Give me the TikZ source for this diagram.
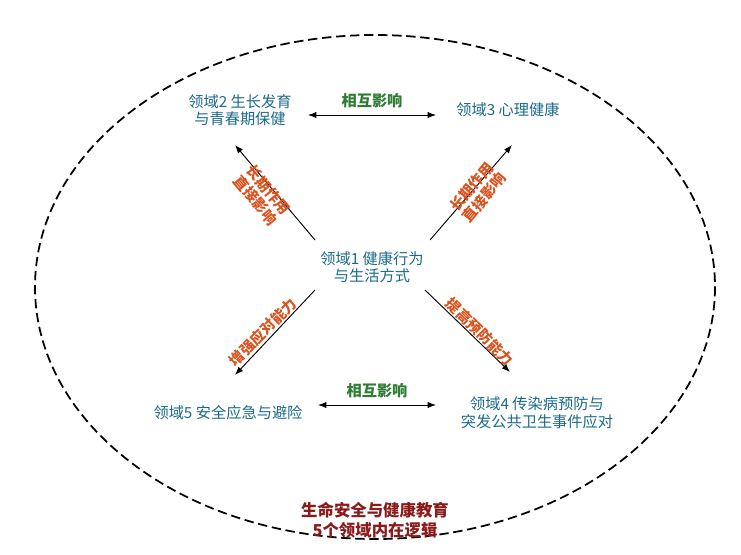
\documentclass[tikz,border=0pt]{standalone}
\usepackage{fontspec}
\setmainfont{Noto Sans CJK SC}
\usetikzlibrary{positioning, arrows.meta}
\definecolor{areablue}{HTML}{1B6A88}
\definecolor{tagred}{HTML}{D9531E}
\definecolor{tagreen}{HTML}{2E7D32}
\definecolor{titlered}{HTML}{8B1A1A}

\begin{document}
\begin{tikzpicture}[x=0.03cm, y=-0.03cm,
		area/.style={text=areablue, font=\fontsize{13}{15}\selectfont, align=center, inner sep=1pt},
		tag/.style={text=tagred, font=\bfseries\fontsize{12.5}{14}\selectfont, align=center, inner sep=1pt},
		mutual/.style={text=tagreen, font=\bfseries\fontsize{13}{15}\selectfont, inner sep=1pt},
		link/.style={thick, {Latex[length=2.5mm]}-{Latex[length=2.5mm]}},
		>={Latex[length=2.5mm]}
		]
		\useasboundingbox (0,0) rectangle (741,554);
		\draw[line width=1.5pt, dash pattern=on 8pt off 4pt] (375,287) ellipse (340 and 252);
		
		\node[area] (a1) at (372,267) {领域1 健康行为\\与生活方式};
		\node[area] (a2) at (240,110) {领域2 生长发育\\与青春期保健};
		\node[area] (a3) at (508,110) {领域3 心理健康};
		\node[area] (a4) at (537,413) {领域4 传染病预防与\\突发公共卫生事件应对};
		\node[area] (a5) at (228,413) {领域5 安全应急与避险};
		
		\coordinate (p2) at (235,145);
		\coordinate (p3) at (512,145);
		\coordinate (p5) at (235,375);
		\coordinate (p4) at (510,372);
		\coordinate (q2) at (315,240);
		\coordinate (q3) at (430,240);
		\coordinate (q5) at (315,290);
		\coordinate (q4) at (425,290);
		\draw[thick, ->] (q2) to (p2);
		\draw[thick, ->] (q3) to (p3);
		\draw[thick, ->] (q5) to (p5);
		\draw[thick, ->] (q4) to (p4);
		
		\coordinate (l23) at (308,115);
		\coordinate (r23) at (436,115);
		\coordinate (l54) at (318,405);
		\coordinate (r54) at (436,405);
		\draw[link] (l23) to node[mutual, above=5pt]{相互影响} (r23);
		\draw[link] (l54) to node[mutual, above=5pt]{相互影响} (r54);
		
		\node[tag, rotate=-50] (t2) at (262,195) {长期作用\\直接影响};
		\node[tag, rotate=50] (t3) at (478,192) {长期作用\\直接影响};
		\node[tag, rotate=45] (t5) at (263,332) {增强应对能力};
		\node[tag, rotate=-45] (t4) at (480,332) {提高预防能力};
		
		\node[text=titlered, font=\bfseries\fontsize{14}{17}\selectfont, align=center] (title) at (375,520) {生命安全与健康教育\\5个领域内在逻辑};
		
		\end{tikzpicture}
\end{document}
